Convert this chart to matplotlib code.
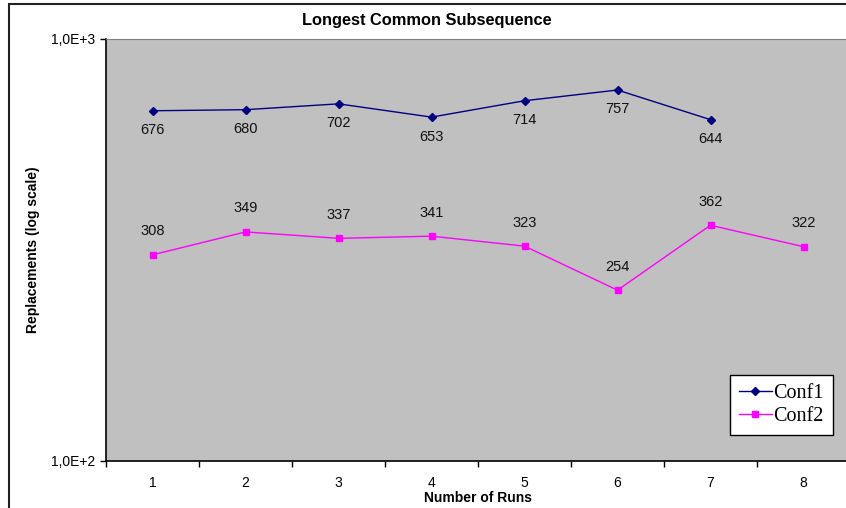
import matplotlib.pyplot as plt
from matplotlib.patches import Rectangle

# --- data ---
runs = [1, 2, 3, 4, 5, 6, 7, 8]
conf1 = [676, 680, 702, 653, 714, 757, 644]
conf2 = [308, 349, 337, 341, 323, 254, 362, 322]

plt.rcParams['font.family'] = ['Liberation Sans', 'DejaVu Sans']

W, H = 846, 508
fig = plt.figure(figsize=(W / 100, H / 100), dpi=100)

# plot area runs slightly past the right edge, like the cropped original
left, right, top, bottom = 106, 850, 39, 461
ax = fig.add_axes([left / W, 1 - bottom / H, (right - left) / W, (bottom - top) / H])
ax.set_facecolor('#c0c0c0')

ax.plot(runs[:len(conf1)], conf1, color='#000080', marker='D', markersize=4.5,
        linewidth=1, label='Conf1')
ax.plot(runs, conf2, color='#ff00ff', marker='s', markersize=5,
        linewidth=1, label='Conf2')

for x, v in zip(runs, conf1):
    ax.annotate(str(v), (x, v), xytext=(0, -14), textcoords='offset points',
                ha='center', va='center', fontsize=10.5, color='#111111')
for x, v in zip(runs, conf2):
    ax.annotate(str(v), (x, v), xytext=(0, 17), textcoords='offset points',
                ha='center', va='center', fontsize=10.5, color='#111111')

ax.set_yscale('log')
ax.set_ylim(100, 1000)
ax.set_yticks([100, 1000])
ax.set_yticklabels(['1,0E+2', '1,0E+3'], fontsize=10)
ax.yaxis.set_minor_locator(plt.NullLocator())

ax.set_xlim(0.5, 8.5)
ax.set_xticks([r + 0.5 for r in [0] + runs])
ax.set_xticklabels([])
ax.set_xticks(runs, minor=True)
ax.set_xticklabels([str(r) for r in runs], minor=True, fontsize=10)
ax.tick_params(axis='x', which='major', direction='out', length=4, width=1)
ax.tick_params(axis='x', which='minor', length=0, pad=10.5)
ax.tick_params(axis='y', direction='out', length=4, width=1, pad=4)

for side in ['left', 'bottom']:
    ax.spines[side].set_color('black')
    ax.spines[side].set_linewidth(1.2)
ax.spines['top'].set_color('#808080')
ax.spines['right'].set_visible(False)

fig.text(478 / W, 1 - 502 / H, 'Number of Runs', ha='center', va='baseline',
         fontsize=10, fontweight='bold')
fig.text(33 / W, 1 - 250 / H, 'Replacements (log scale)', ha='center', va='center',
         rotation=90, fontsize=10, fontweight='bold')
fig.text(427 / W, 1 - 20 / H, 'Longest Common Subsequence', ha='center', va='center',
         fontsize=11.8, fontweight='bold')

leg = ax.legend(loc='lower right', bbox_to_anchor=((833 - left) / (right - left), (bottom - 435) / (bottom - top)),
                prop={'family': 'Liberation Serif', 'size': 14.5}, frameon=True,
                fancybox=False, framealpha=1, edgecolor='black', handlelength=1.6,
                handletextpad=0.1, borderpad=0.45, labelspacing=0.2, borderaxespad=0)
leg.get_frame().set_facecolor('white')
leg.get_frame().set_linewidth(1)

# outer chart border, cut off on the right and bottom
fig.patches.append(Rectangle((9 / W, -0.1), 1.2, 1 - 4 / H + 0.1, transform=fig.transFigure,
                             fill=False, edgecolor='#222222', linewidth=1.5))

fig.savefig('out.png', dpi=100)
